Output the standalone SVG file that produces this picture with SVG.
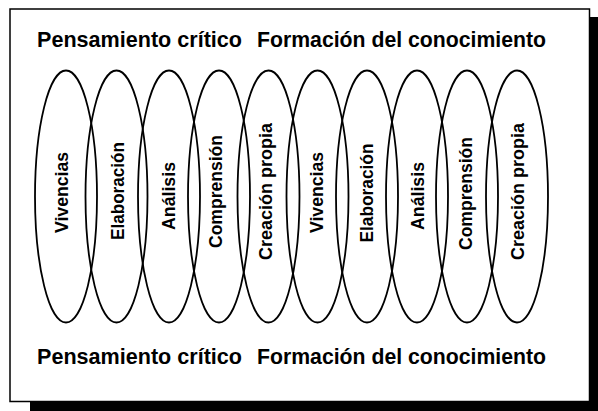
<svg xmlns="http://www.w3.org/2000/svg" width="598" height="411" viewBox="0 0 598 411">
<style>
.el{fill:none;stroke:#000;stroke-width:1.8}
.lbl{font-family:"Liberation Sans",Arial,sans-serif;font-weight:bold;font-size:19px;fill:#000;text-anchor:middle}
.ttl{font-family:"Liberation Sans",Arial,sans-serif;font-weight:bold;font-size:21.5px;fill:#000}
</style>
<rect x="30" y="17" width="568" height="394" fill="#000"/>
<rect id="frame" x="10" y="9" width="579.5" height="392.5" fill="#fff" stroke="#000" stroke-width="1.5"/>
<g id="title-top">
<text class="ttl" x="37" y="47" textLength="205" lengthAdjust="spacingAndGlyphs">Pensamiento crítico</text>
<text class="ttl" x="257" y="47" textLength="289" lengthAdjust="spacingAndGlyphs">Formación del conocimiento</text>
</g>
<g id="title-bottom">
<text class="ttl" x="37" y="364" textLength="205" lengthAdjust="spacingAndGlyphs">Pensamiento crítico</text>
<text class="ttl" x="257" y="364" textLength="289" lengthAdjust="spacingAndGlyphs">Formación del conocimiento</text>
</g>
<g id="n1"><ellipse class="el" cx="66" cy="196.5" rx="31" ry="126"/><text class="lbl" transform="translate(68,192.5) rotate(-90)" textLength="81" lengthAdjust="spacingAndGlyphs">Vivencias</text></g>
<g id="n2"><ellipse class="el" cx="116.5" cy="196.5" rx="31" ry="126"/><text class="lbl" transform="translate(124,191) rotate(-90)" textLength="98" lengthAdjust="spacingAndGlyphs">Elaboración</text></g>
<g id="n3"><ellipse class="el" cx="169" cy="196.5" rx="31" ry="126"/><text class="lbl" transform="translate(175,196) rotate(-90)" textLength="68" lengthAdjust="spacingAndGlyphs">Análisis</text></g>
<g id="n4"><ellipse class="el" cx="219" cy="196.5" rx="31" ry="126"/><text class="lbl" transform="translate(222,191.5) rotate(-90)" textLength="113" lengthAdjust="spacingAndGlyphs">Comprensión</text></g>
<g id="n5"><ellipse class="el" cx="268.5" cy="196.5" rx="31" ry="126"/><text class="lbl" transform="translate(272,191.5) rotate(-90)" textLength="137" lengthAdjust="spacingAndGlyphs">Creación propia</text></g>
<g id="n6"><ellipse class="el" cx="317.5" cy="196.5" rx="31" ry="126"/><text class="lbl" transform="translate(323,192.5) rotate(-90)" textLength="81" lengthAdjust="spacingAndGlyphs">Vivencias</text></g>
<g id="n7"><ellipse class="el" cx="367" cy="196.5" rx="31" ry="126"/><text class="lbl" transform="translate(373,193) rotate(-90)" textLength="99" lengthAdjust="spacingAndGlyphs">Elaboración</text></g>
<g id="n8"><ellipse class="el" cx="417" cy="196.5" rx="31" ry="126"/><text class="lbl" transform="translate(424,196) rotate(-90)" textLength="68" lengthAdjust="spacingAndGlyphs">Análisis</text></g>
<g id="n9"><ellipse class="el" cx="467" cy="196.5" rx="31" ry="126"/><text class="lbl" transform="translate(472,193.5) rotate(-90)" textLength="113" lengthAdjust="spacingAndGlyphs">Comprensión</text></g>
<g id="n10"><ellipse class="el" cx="517" cy="196.5" rx="31" ry="126"/><text class="lbl" transform="translate(524,191.5) rotate(-90)" textLength="137" lengthAdjust="spacingAndGlyphs">Creación propia</text></g>
</svg>
